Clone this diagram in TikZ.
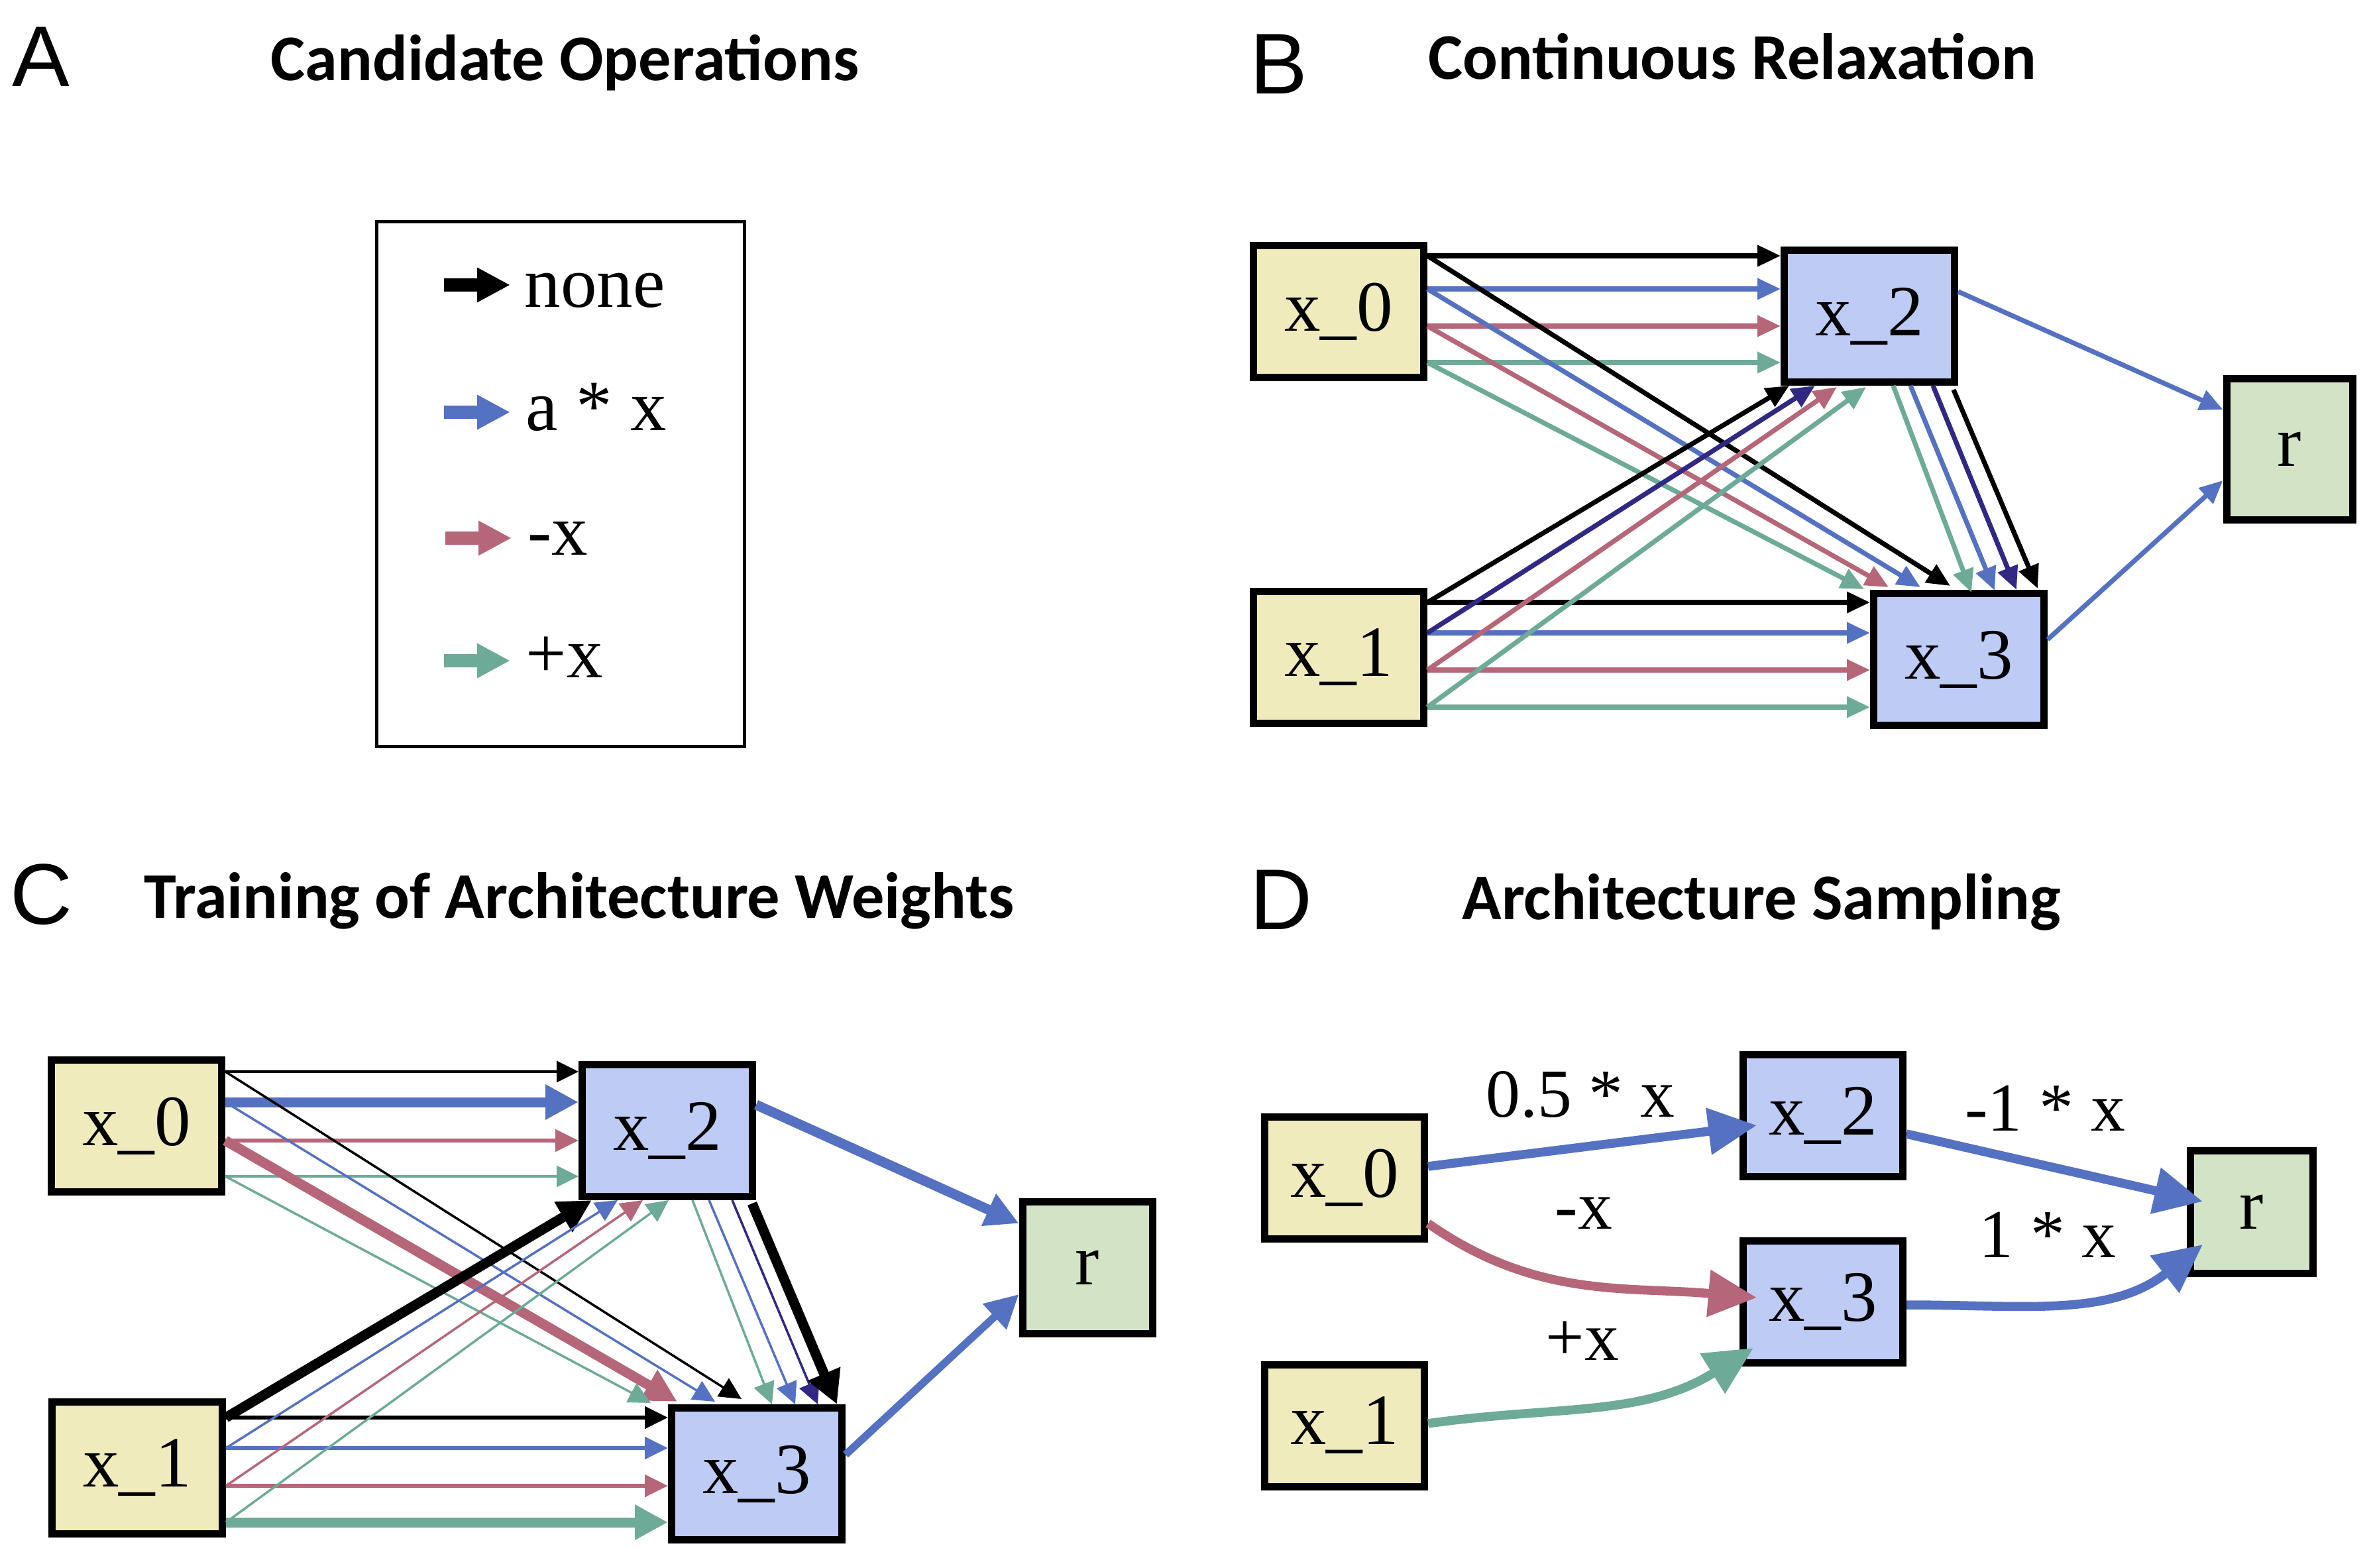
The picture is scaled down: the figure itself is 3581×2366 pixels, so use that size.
\documentclass[tikz,border=0pt]{standalone}
\usepackage{fontspec}
\setmainfont{Liberation Serif}
\newfontfamily\titlefont{Carlito}
\newfontfamily\letterfont{Liberation Sans}
\usetikzlibrary{positioning, arrows.meta, calc}
\definecolor{opblue}{RGB}{85,113,193}
\definecolor{opred}{RGB}{181,102,120}
\definecolor{opgreen}{RGB}{110,170,152}
\definecolor{opnavy}{RGB}{48,40,130}
\definecolor{inyellow}{RGB}{239,235,188}
\definecolor{midblue}{RGB}{190,203,245}
\definecolor{outgreen}{RGB}{211,228,198}
\newcommand\boxfont{\fontsize{31}{36}\selectfont}

\tikzset{
  cell/.style={draw, line width=1.1mm, inner sep=0pt, font=\boxfont},
  inbox/.style={cell, fill=inyellow},
  midbox/.style={cell, fill=midblue},
  outbox/.style={cell, fill=outgreen},
  bsize/.style={minimum width=25.7mm, minimum height=19.9mm},
  dsize/.style={minimum width=24.1mm, minimum height=18.4mm},
  panel/.style={anchor=base west, inner sep=0pt, font=\letterfont\fontsize{37}{42}\selectfont},
  title/.style={anchor=base west, inner sep=0pt, font=\titlefont\bfseries\fontsize{28}{32}\selectfont},
  optext/.style={anchor=base west, inner sep=0pt, font=\boxfont},
  wlabel/.style={anchor=base, inner sep=0pt, font=\fontsize{29.5}{34}\selectfont},
  legarrow/.style={-{Triangle[length=5mm,width=4.9mm]}, line width=2mm},
  op/.style={-{Triangle[length=3.5mm,width=3.1mm]}, line width=0.72mm},
  cthin/.style={-{Triangle[length=3.3mm,width=3.2mm]}, line width=0.35mm},
  cmid/.style={-{Triangle[length=3.5mm,width=3.3mm]}, line width=0.6mm},
  cthick/.style={-{Triangle[length=5mm,width=5mm]}, line width=1.5mm},
  dop/.style={-{Triangle[length=7.3mm,width=6.8mm]}, line width=1.35mm}
}

\begin{document}
\begin{tikzpicture}[x=0.1mm, y=-0.1mm]
  \path[use as bounding box, fill=white] (0,0) rectangle (3581,2366);

  % A
  \node[panel] (la) at (18,131) {A};
  \node[title] (ta) at (408,122) {Candidate Operations};
  \node[draw, line width=0.5mm, minimum width=55.5mm, minimum height=79.2mm] (legend) at (846,731) {};
  \node[optext] (lnone) at (791,464) {none};
  \node[optext] (lax) at (793,650) {a * x};
  \node[optext] (lneg) at (796,838) {-x};
  \node[optext] (lpos) at (793,1023) {+x};
  \coordinate (ls1) at (670,430);
  \coordinate (le1) at (770,430);
  \coordinate (ls2) at (670,622);
  \coordinate (le2) at (770,622);
  \coordinate (ls3) at (672,812);
  \coordinate (le3) at (772,812);
  \coordinate (ls4) at (670,997);
  \coordinate (le4) at (770,997);
  \draw[legarrow, black] (ls1) -- (le1);
  \draw[legarrow, opblue] (ls2) -- (le2);
  \draw[legarrow, opred] (ls3) -- (le3);
  \draw[legarrow, opgreen] (ls4) -- (le4);

  % B
  \node[panel] (lb) at (1886,142) {B};
  \node[title] (tb) at (2155,120) {Continuous Relaxation};
  \node[inbox, bsize] (b0) at (2020,470) {x\_0};
  \node[inbox, bsize] (b1) at (2020,992) {x\_1};
  \node[midbox, bsize] (b2) at (2821,477) {x\_2};
  \node[midbox, bsize] (b3) at (2956,995) {x\_3};
  \node[outbox, minimum width=19mm, minimum height=21.3mm] (br) at (3455,678) {r};

  \coordinate (b0k) at ($(b0.east)+(0,-84)$);
  \coordinate (b0b) at ($(b0.east)+(0,-34)$);
  \coordinate (b0r) at ($(b0.east)+(0,22)$);
  \coordinate (b0g) at ($(b0.east)+(0,77)$);
  \coordinate (b1k) at ($(b1.east)+(0,-83)$);
  \coordinate (b1b) at ($(b1.east)+(0,-37)$);
  \coordinate (b1r) at ($(b1.east)+(0,19)$);
  \coordinate (b1g) at ($(b1.east)+(0,75)$);

  \draw[op, black] (b0k) -- (b2.west |- b0k);
  \draw[op, opblue] (b0b) -- (b2.west |- b0b);
  \draw[op, opred] (b0r) -- (b2.west |- b0r);
  \draw[op, opgreen] (b0g) -- (b2.west |- b0g);
  \draw[op, black] (b0k) -- ($(b3.north)+(-13,-6)$);
  \draw[op, opblue] (b0b) -- ($(b3.north)+(-58,-4)$);
  \draw[op, opred] (b0r) -- ($(b3.north)+(-106,-4)$);
  \draw[op, opgreen] (b0g) -- ($(b3.north)+(-143,-1)$);
  \draw[op, black] (b1k) -- (b3.west |- b1k);
  \draw[op, opblue] (b1b) -- (b3.west |- b1b);
  \draw[op, opred] (b1r) -- (b3.west |- b1r);
  \draw[op, opgreen] (b1g) -- (b3.west |- b1g);
  \draw[op, black] (b1k) -- ($(b2.south)+(-121,0)$);
  \draw[op, opnavy] (b1b) -- ($(b2.south)+(-82,0)$);
  \draw[op, opred] (b1r) -- ($(b2.south)+(-49,2)$);
  \draw[op, opgreen] (b1g) -- ($(b2.south)+(-5,2)$);
  \draw[op, opgreen] ($(b2.south)+(36,0)$) -- ($(b3.north)+(19,4)$);
  \draw[op, opblue] ($(b2.south)+(62,0)$) -- ($(b3.north)+(54,1)$);
  \draw[op, opnavy] ($(b2.south)+(96,0)$) -- ($(b3.north)+(87,0)$);
  \draw[op, black] ($(b2.south)+(127,6)$) -- ($(b3.north)+(119,-2)$);
  \draw[op, opblue] ($(b2.east)+(0,-37)$) -- ($(br.west)+(0,-60)$);
  \draw[op, opblue] ($(b3.east)+(0,-30)$) -- ($(br.west)+(0,47)$);

  % C
  \node[panel] (lc) at (15,1395) {C};
  \node[title] (tc) at (217,1386) {Training of Architecture Weights};
  \node[inbox, bsize] (c0) at (206,1699) {x\_0};
  \node[inbox, bsize] (c1) at (207,2215) {x\_1};
  \node[midbox, bsize] (c2) at (1007,1706) {x\_2};
  \node[midbox, bsize] (c3) at (1142,2224) {x\_3};
  \node[outbox, minimum width=19.6mm, minimum height=19.9mm] (cr) at (1641,1913) {r};

  \coordinate (c0k) at ($(c0.east)+(0,-82)$);
  \coordinate (c0b) at ($(c0.east)+(0,-36)$);
  \coordinate (c0r) at ($(c0.east)+(0,22)$);
  \coordinate (c0g) at ($(c0.east)+(0,76)$);
  \coordinate (c1k) at ($(c1.east)+(0,-76)$);
  \coordinate (c1b) at ($(c1.east)+(0,-30)$);
  \coordinate (c1r) at ($(c1.east)+(0,27)$);
  \coordinate (c1g) at ($(c1.east)+(0,82)$);

  \draw[cthin, black] (c0k) -- (c2.west |- c0k);
  \draw[cthick, opblue] (c0b) -- (c2.west |- c0b);
  \draw[cmid, opred] (c0r) -- (c2.west |- c0r);
  \draw[cthin, opgreen] (c0g) -- (c2.west |- c0g);
  \draw[cthin, black] (c0k) -- ($(c3.north)+(-23,-8)$);
  \draw[cthin, opblue] (c0b) -- ($(c3.north)+(-63,-4)$);
  \draw[cthick, opred] (c0r) -- ($(c3.north)+(-120,-4)$);
  \draw[cthin, opgreen] (c0g) -- ($(c3.north)+(-160,-2)$);
  \draw[cmid, black] (c1k) -- (c3.west |- c1k);
  \draw[cmid, opblue] (c1b) -- (c3.west |- c1b);
  \draw[cmid, opred] (c1r) -- (c3.west |- c1r);
  \draw[cthick, opgreen] (c1g) -- (c3.west |- c1g);
  \draw[cthick, black] (c1k) -- ($(c2.south)+(-114,0)$);
  \draw[cthin, opblue] (c1b) -- ($(c2.south)+(-75,0)$);
  \draw[cthin, opred] (c1r) -- ($(c2.south)+(-37,0)$);
  \draw[cthin, opgreen] (c1g) -- ($(c2.south)+(2,0)$);
  \draw[cthin, opgreen] ($(c2.south)+(38,0)$) -- ($(c3.north)+(23,0)$);
  \draw[cthin, opblue] ($(c2.south)+(63,0)$) -- ($(c3.north)+(58,0)$);
  \draw[cthin, opnavy] ($(c2.south)+(98,0)$) -- ($(c3.north)+(92,0)$);
  \draw[cthick, black] ($(c2.south)+(128,5)$) -- ($(c3.north)+(121,0)$);
  \draw[cthick, opblue] ($(c2.east)+(0,-39)$) -- ($(cr.west)+(0,-67)$);
  \draw[cthick, opblue, line width=1.15mm] ($(c3.east)+(0,-29)$) -- ($(cr.west)+(0,40)$);

  % D
  \node[panel] (ld) at (1886,1402) {D};
  \node[title] (td) at (2206,1388) {Architecture Sampling};
  \node[inbox, dsize] (d0) at (2029,1777) {x\_0};
  \node[inbox, dsize] (d1) at (2029,2151) {x\_1};
  \node[midbox, dsize] (d2) at (2751,1683) {x\_2};
  \node[midbox, dsize] (d3) at (2751,1964) {x\_3};
  \node[outbox, minimum width=18.5mm, minimum height=18.5mm] (dr) at (3398,1829) {r};

  \draw[dop, opblue] ($(d0.east)+(0,-17)$) -- ($(d2.west)+(26,15)$);
  \draw[dop, opblue] ($(d2.east)+(0,28)$) -- ($(dr.west)+(24,-16)$);
  \draw[dop, opred] ($(d0.east)+(0,69)$) to[out=-35, in=175] ($(d3.west)+(26,-6)$);
  \draw[dop, opgreen] ($(d1.east)+(0,-3)$) to[out=8, in=212] ($(d3.west)+(21,70)$);
  \draw[dop, opblue] ($(d3.east)+(0,5)$) to[out=0, in=218] ($(dr.west)+(24,49)$);

  \node[wlabel] (w02) at (2385,1685) {0.5 * x};
  \node[wlabel] (w2r) at (3086,1706) {-1 * x};
  \node[wlabel] (w03) at (2390,1854) {-x};
  \node[wlabel] (w3r) at (3090,1897) {1 * x};
  \node[wlabel] (w13) at (2388,2052) {+x};
\end{tikzpicture}
\end{document}
